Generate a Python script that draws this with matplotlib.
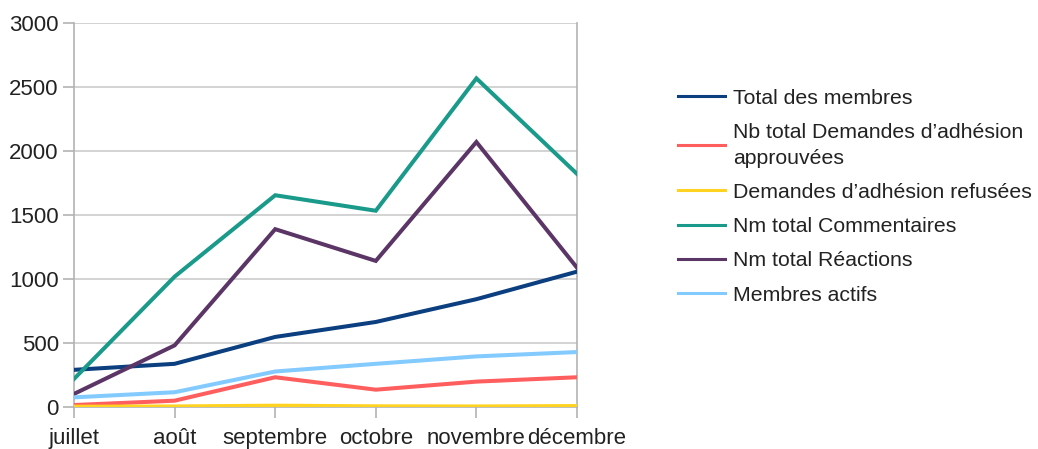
import matplotlib
matplotlib.use("Agg")
import matplotlib.pyplot as plt

months = ["juillet", "août", "septembre", "octobre", "novembre", "décembre"]
total_membres = [288, 335, 545, 662, 840, 1055]
demandes_approuvees = [13, 47, 230, 133, 196, 230]
demandes_refusees = [0, 2, 8, 3, 2, 5]
commentaires = [217, 1016, 1652, 1531, 2565, 1819]
reactions = [100, 479, 1387, 1139, 2068, 1086]
membres_actifs = [73, 113, 275, 335, 393, 427]

labels = ["Total des membres", "Nb total Demandes d’adhésion\napprouvées",
          "Demandes d’adhésion refusées", "Nm total Commentaires",
          "Nm total Réactions", "Membres actifs"]
series = [total_membres, demandes_approuvees, demandes_refusees,
          commentaires, reactions, membres_actifs]
colors = ["#0b3f7f", "#ff5e5e", "#ffd320", "#1a9a8a", "#5b3566", "#83caff"]

plt.rcParams['font.family'] = ['Liberation Sans', 'DejaVu Sans']

fig = plt.figure(figsize=(10.38, 4.49), dpi=100)
ax = fig.add_axes([74/1038, 1 - 406.7/449, (577 - 74)/1038, (406.7 - 22.7)/449])

x = list(range(len(months)))
for s, c, lab in zip(series, colors, labels):
    ax.plot(x, s, color=c, lw=2.9, label=lab, solid_joinstyle='miter', zorder=3)

ax.set_xlim(0, 5)
ax.set_ylim(0, 3000)
ax.set_yticks(range(0, 3001, 500))
ax.set_xticks(x)
ax.set_xticklabels(months)
ax.grid(axis='y', color='#cccccc', lw=1.2)
ax.set_axisbelow(True)
for side in ['top']:
    ax.spines[side].set_visible(False)
for side in ['left', 'right', 'bottom']:
    ax.spines[side].set_color('#b3b3b3')
    ax.spines[side].set_linewidth(1.2)
ax.tick_params(axis='both', colors='#b3b3b3', length=8, width=1.2, labelsize=16,
               labelcolor='#222222')
ax.tick_params(axis='y', pad=3)
ax.tick_params(axis='x', pad=7)

leg = fig.legend(loc='center left', bbox_to_anchor=(678/1038, 0.562), frameon=False,
                 fontsize=15.3, handlelength=2.2, handletextpad=0.4,
                 labelspacing=0.72, borderpad=0, borderaxespad=0)
for line in leg.get_lines():
    line.set_linewidth(2.2)
for t in leg.get_texts():
    t.set_color('#222222')
    t.set_linespacing(1.45)

fig.savefig("out.png", dpi=100)
